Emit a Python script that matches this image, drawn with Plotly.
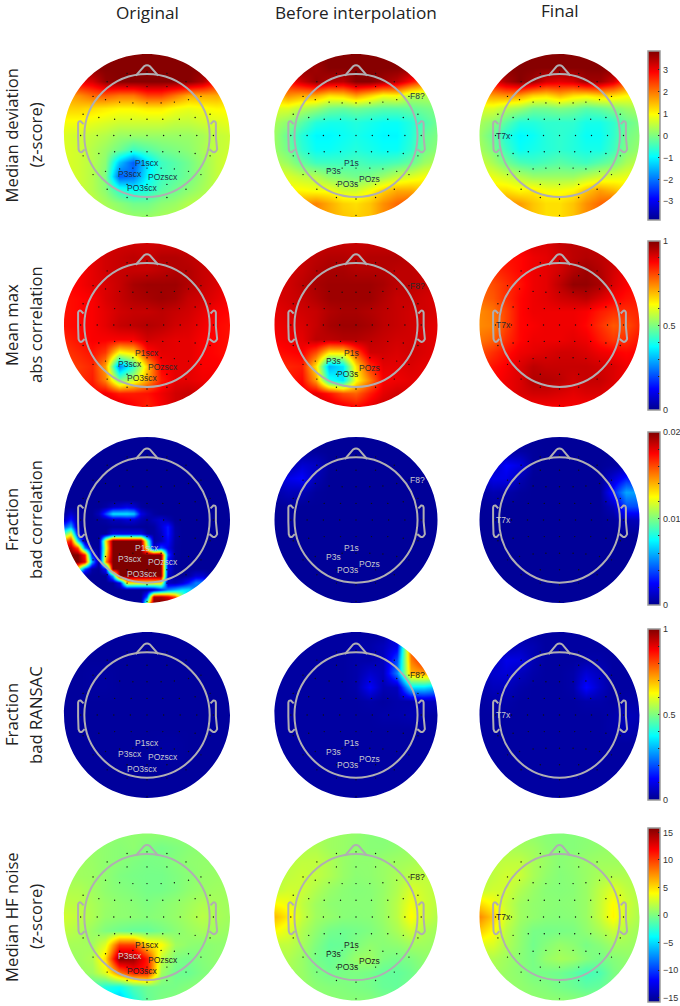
import numpy as np
import plotly.graph_objects as go

# topographic maps, top row of each list = front of head
# Median deviation (z-score)
MD_ORIG = [
    [3.8,3.8,3.8,3.8,3.8,3.8,3.8,3.8,3.8,3.8,3.8,3.8,3.8],
    [3.8,3.8,3.8,3.8,3.8,3.8,3.8,3.8,3.8,3.8,3.8,3.8,3.8],
    [3,3,3.2,3.7,3.8,3.8,3.8,3.8,3.8,3.8,3.5,2.8,2.5],
    [1.6,1.8,2.1,2.2,2,2,2.4,2.4,2,1.6,1.6,1.6,1.4],
    [1.3,1.3,1.2,1.1,1,1,1.1,1.1,.9,.8,.9,1,1],
    [.9,.9,.8,.7,.6,.6,.6,.6,.5,.5,.6,.7,.8],
    [.7,.6,.5,.4,.2,.2,.2,.2,.2,.2,.3,.5,.6],
    [.7,.6,.4,.2,-.1,-.5,-.3,-.1,0,.1,.3,.5,.6],
    [.7,.6,.4,.1,-1.4,-2.2,-1.2,-.5,-.3,-.1,.2,.5,.7],
    [.7,.6,.4,0,-2.2,-2,-1,-.5,-.3,-.1,.2,.5,.7],
    [.7,.6,.4,.1,-.6,-.9,-.7,-.3,-.1,.1,.3,.5,.7],
    [.7,.6,.5,.3,.1,-.1,-.1,.1,.2,.4,.5,.6,.7],
    [.6,.6,.5,.4,.3,.2,.2,.3,.4,.5,.6,.7,.7],
]
MD_BEFORE = [
    [3.8,3.8,3.8,3.8,3.8,3.8,3.8,3.8,3.8,3.8,3.8,3.8,3.8],
    [3.8,3.8,3.8,3.6,3.8,3.8,3.8,3.8,3.8,3.8,3.8,3.8,3.8],
    [2.8,2.8,3.3,3.7,3.5,3.4,3.8,3.8,3.6,3.4,2.8,2.2,2],
    [1.5,1.8,1.6,1.6,1.2,1.3,1.7,1.3,.9,1,.4,.4,.4],
    [.7,.7,.4,.2,-.1,-.2,-.1,-.2,-.3,-.3,-.2,-.1,0],
    [.3,.1,-.3,-.7,-.8,-.8,-.7,-.8,-.9,-.9,-.7,-.4,-.1],
    [.2,-.2,-.7,-1,-1,-.9,-.8,-.9,-1,-1,-.7,-.2,0],
    [.2,-.1,-.6,-.9,-.9,-.8,-.7,-.8,-.9,-.9,-.6,-.1,.1],
    [.4,.2,-.2,-.5,-.5,-.5,-.4,-.5,-.5,-.4,-.2,.2,.4],
    [.8,.7,.5,.4,.1,0,-.1,0,.2,.5,.7,.9,1],
    [1,1,1,.9,.9,.6,.6,.9,1.3,1.6,1.6,1.4,1],
    [1.2,1.5,1.7,1.9,1.6,1.3,1.2,1.4,1.8,2.1,2.3,2,1.4],
    [1.2,1.5,1.7,1.8,1.6,1.4,1.3,1.4,1.8,2.1,2.2,2,1.4],
]
MD_FINAL = [
    [3.8,3.8,3.8,3.8,3.8,3.8,3.8,3.8,3.8,3.8,3.8,3.8,3.8],
    [3.8,3.8,3.8,3.8,3.8,3.8,3.8,3.8,3.8,3.8,3.8,3.8,3.8],
    [2.8,3,3.5,3.8,3.6,3.2,3.1,3.2,3.6,3.6,3.2,2.4,2],
    [1.6,1.7,1.8,1.7,1.3,1.2,1.5,1.2,1.1,1.3,1.2,1,.9],
    [.7,.7,.4,.2,-.1,-.1,0,-.1,-.3,-.2,0,.2,.3],
    [.3,.1,-.3,-.7,-.7,-.6,-.6,-.6,-.8,-.8,-.6,-.2,0],
    [.2,-.2,-.7,-1,-.9,-.7,-.6,-.7,-.9,-.9,-.6,-.1,.1],
    [.3,0,-.5,-.9,-.8,-.7,-.6,-.7,-.8,-.8,-.5,0,.2],
    [.6,.3,-.1,-.4,-.5,-.4,-.3,-.4,-.5,-.3,-.1,.3,.5],
    [.9,.8,.6,.4,.2,.2,.2,.2,.4,.6,.7,.8,.9],
    [1.2,1.2,1.2,1,1.1,.9,.9,1,1.4,1.7,1.5,1.2,1.1],
    [1.3,1.6,1.8,1.7,1.4,1.2,1.2,1.4,1.8,2.1,2.3,1.8,1.3],
    [1.3,1.6,1.8,1.7,1.4,1.2,1.2,1.4,1.8,2.1,2.2,1.8,1.3],
]

# Mean max abs correlation
MC_ORIG = [
    [.92,.92,.92,.92,.92,.92,.92,.92,.92,.92,.92,.92,.92],
    [.9,.9,.9,.92,.93,.94,.93,.95,.95,.94,.93,.92,.9],
    [.88,.88,.9,.92,.93,.93,.93,.94,.95,.95,.93,.92,.9],
    [.87,.88,.9,.91,.93,.96,.97,.97,.97,.95,.93,.91,.89],
    [.86,.87,.88,.91,.93,.95,.96,.97,.96,.93,.92,.9,.88],
    [.86,.87,.88,.9,.92,.93,.93,.94,.93,.92,.9,.88,.87],
    [.86,.87,.88,.9,.93,.94,.95,.94,.92,.91,.89,.87,.86],
    [.84,.86,.88,.88,.88,.88,.92,.91,.9,.9,.88,.87,.86],
    [.82,.84,.86,.82,.62,.66,.86,.9,.9,.9,.88,.87,.86],
    [.81,.82,.84,.72,.25,.42,.68,.88,.9,.9,.88,.88,.87],
    [.82,.83,.85,.75,.5,.58,.72,.85,.9,.9,.89,.89,.88],
    [.85,.85,.87,.89,.85,.85,.86,.89,.92,.93,.92,.9,.88],
    [.88,.88,.9,.93,.92,.88,.84,.88,.92,.93,.92,.9,.88],
]
MC_BEFORE = [
    [.93,.93,.93,.93,.93,.93,.93,.93,.93,.93,.93,.93,.93],
    [.93,.93,.93,.94,.95,.95,.94,.95,.95,.95,.94,.93,.92],
    [.92,.92,.93,.95,.96,.96,.95,.95,.95,.94,.94,.93,.92],
    [.92,.92,.94,.96,.97,.97,.97,.97,.96,.94,.94,.93,.92],
    [.91,.92,.93,.95,.97,.97,.97,.97,.95,.93,.93,.92,.91],
    [.9,.91,.92,.93,.95,.96,.96,.95,.94,.93,.92,.92,.91],
    [.89,.9,.91,.93,.96,.97,.97,.96,.94,.93,.92,.91,.9],
    [.88,.89,.9,.94,.94,.95,.95,.94,.93,.92,.92,.91,.9],
    [.86,.87,.88,.8,.65,.65,.8,.92,.92,.91,.92,.91,.9],
    [.84,.84,.85,.65,.3,.35,.65,.83,.9,.9,.91,.9,.9],
    [.85,.85,.87,.72,.4,.35,.62,.75,.88,.89,.9,.9,.9],
    [.87,.87,.89,.9,.86,.8,.78,.85,.9,.92,.91,.9,.9],
    [.9,.9,.92,.93,.92,.9,.87,.9,.93,.93,.92,.9,.9],
]
MC_FINAL = [
    [.89,.89,.89,.89,.91,.91,.93,.94,.94,.94,.91,.89,.89],
    [.85,.85,.86,.87,.89,.9,.92,.94,.95,.94,.93,.91,.89],
    [.81,.83,.85,.87,.89,.9,.92,.95,.97,.95,.92,.89,.87],
    [.78,.8,.83,.86,.89,.9,.94,.98,.98,.96,.91,.88,.86],
    [.77,.79,.83,.87,.89,.9,.92,.93,.94,.91,.88,.86,.85],
    [.74,.76,.81,.87,.89,.89,.89,.89,.88,.85,.83,.83,.84],
    [.74,.75,.81,.87,.88,.89,.89,.89,.87,.83,.79,.8,.84],
    [.76,.78,.83,.87,.89,.89,.89,.9,.89,.85,.82,.83,.86],
    [.8,.83,.86,.89,.9,.91,.92,.92,.91,.89,.88,.87,.88],
    [.83,.86,.88,.91,.94,.93,.93,.93,.93,.92,.91,.89,.89],
    [.85,.87,.89,.91,.95,.95,.94,.92,.93,.93,.91,.89,.89],
    [.87,.88,.89,.91,.92,.92,.91,.9,.91,.91,.9,.89,.89],
    [.88,.88,.88,.88,.88,.88,.88,.88,.88,.88,.88,.88,.88],
]

# Fraction bad correlation, in units of 1e-4 (the blob in the first map has a hard edge, so a finer grid)
BC_ORIG = [
    [2,2,2,2,2,2,2,2,2,2,2,2,2,2,2,2,2,2,2,2,2,2,2,2,2],
    [2,2,2,2,2,2,2,2,2,2,2,2,2,2,2,2,2,2,2,2,2,2,2,2,2],
    [2,2,2,2,2,2,2,2,2,2,2,2,2,2,2,2,2,2,2,2,2,2,2,2,2],
    [2,2,2,2,2,2,2,2,2,2,2,2,2,2,2,2,2,2,2,2,2,2,2,2,2],
    [2,2,2,2,2,2,2,2,2,2,2,2,2,2,2,2,2,2,2,2,2,2,2,2,2],
    [2,2,2,2,2,2,2,2,2,2,2,2,2,2,2,2,2,2,2,2,2,2,2,2,2],
    [2,2,2,2,2,2,2,2,2,2,2,2,2,2,2,2,2,2,2,2,2,2,2,2,2],
    [2,2,2,2,2,2,2,2,2,2,2,2,2,2,2,2,2,2,2,2,2,2,2,2,2],
    [2,2,2,2,2,2,2,2,2,2,2,2,2,2,2,2,2,2,2,2,2,2,2,2,2],
    [2,2,2,2,2,2,2,2,2,2,2,2,2,2,2,2,2,2,2,2,2,2,2,2,2],
    [2,2,2,2,2,2,5,12,15,20,15,4,2,2,2,2,2,2,2,2,2,2,2,2,2],
    [2,15,3,2,2,10,40,70,70,70,65,20,10,4,2,2,2,2,2,2,2,2,2,2,2],
    [10,30,4,2,2,3,5,10,10,15,15,8,4,10,15,8,2,2,2,2,2,2,2,2,2],
    [40,60,5,2,2,2,2,3,3,3,3,2,2,4,15,30,5,2,2,2,2,2,2,2,2],
    [90,120,20,2,2,2,2,20,20,20,20,20,4,4,10,30,6,2,2,2,2,2,2,2,2],
    [150,170,70,5,2,2,130,200,200,200,200,200,100,5,8,25,5,2,2,2,2,2,2,2,2],
    [190,190,160,50,3,2,120,200,200,200,200,200,120,10,40,20,4,2,2,2,2,2,2,2,2],
    [200,200,200,170,30,2,130,200,200,200,200,200,200,200,200,40,4,2,2,2,2,2,2,2,2],
    [200,200,200,180,60,2,150,200,200,200,200,200,200,200,200,20,3,2,2,2,2,2,2,2,2],
    [150,150,120,40,5,2,30,200,200,200,200,200,200,200,200,20,3,2,2,2,2,2,2,2,2],
    [30,20,5,2,2,2,2,60,200,200,200,200,200,200,200,15,3,2,5,15,15,5,2,2,2],
    [2,2,2,2,2,2,2,2,20,130,130,130,130,130,130,10,8,15,30,50,50,10,2,2,2],
    [2,2,2,2,2,2,2,2,2,2,2,2,3,10,30,50,60,70,70,50,15,3,2,2,2],
    [2,2,2,2,2,2,2,2,2,2,2,2,40,190,190,180,160,110,50,15,3,2,2,2,2],
    [2,2,2,2,2,2,2,2,2,2,2,2,100,200,200,200,190,150,80,20,3,2,2,2,2],
]
BC_BEFORE = [
    [2,2,2,2,2,2,2,2,2,2,2,2,2],
    [2,2,2,3,2,2,2,2,2,2,2,2,2],
    [2,5,15,12,3,2,2,2,2,2,2,2,2],
    [10,20,25,8,2,2,2,2,2,2,2,2,2],
    [6,10,8,3,2,2,2,2,2,2,2,2,2],
    [2,3,2,2,2,2,2,2,2,2,2,2,2],
    [2,2,2,2,2,2,2,2,2,2,2,2,2],
    [2,2,2,2,2,2,2,2,2,2,2,2,2],
    [2,2,2,2,2,2,2,2,2,2,2,2,2],
    [2,2,2,2,2,2,2,2,2,2,2,2,2],
    [2,2,2,2,2,2,2,2,2,2,2,2,2],
    [2,2,2,2,2,2,2,2,2,2,2,2,2],
    [2,2,2,2,2,2,2,2,2,2,2,2,2],
]
BC_FINAL = [
    [2,2,2,2,2,2,2,2,2,2,2,2,2],
    [2,2,3,5,3,2,2,2,2,2,2,2,2],
    [5,10,25,18,3,2,2,2,2,2,4,5,4],
    [10,20,20,8,2,2,2,2,2,2,15,30,25],
    [4,8,6,3,2,2,2,2,2,2,30,58,55],
    [2,3,2,2,2,2,2,2,2,2,10,40,40],
    [2,2,2,2,2,2,2,2,2,2,3,8,10],
    [2,2,2,2,2,2,2,2,2,2,2,2,2],
    [2,2,2,2,2,2,2,2,2,2,2,2,2],
    [2,2,2,2,2,2,2,2,2,2,2,2,2],
    [2,2,2,2,2,2,2,2,2,2,2,2,2],
    [2,2,2,2,2,2,2,2,2,2,2,2,2],
    [2,2,2,2,2,2,2,2,2,2,2,2,2],
]

# Fraction bad RANSAC
BR_ORIG = [
    [.015,.015,.015,.015,.015,.015,.015,.015,.015,.015,.015,.015,.015],
    [.015,.015,.015,.015,.015,.015,.015,.015,.015,.015,.015,.015,.015],
    [.015,.015,.015,.015,.015,.015,.015,.015,.015,.015,.015,.015,.015],
    [.015,.015,.02,.02,.015,.015,.015,.015,.015,.015,.015,.015,.015],
    [.015,.015,.02,.02,.015,.015,.015,.015,.015,.015,.015,.015,.015],
    [.015,.015,.015,.015,.015,.015,.015,.015,.015,.015,.015,.015,.015],
    [.015,.015,.015,.015,.015,.015,.015,.015,.015,.015,.015,.015,.015],
    [.015,.015,.015,.015,.015,.015,.015,.015,.015,.015,.015,.015,.015],
    [.015,.015,.015,.015,.015,.015,.015,.02,.02,.015,.015,.015,.015],
    [.015,.015,.015,.015,.015,.015,.015,.02,.02,.015,.015,.015,.015],
    [.015,.015,.015,.015,.015,.015,.015,.015,.015,.015,.015,.015,.015],
    [.015,.015,.015,.015,.015,.015,.015,.015,.015,.015,.015,.015,.015],
    [.015,.015,.015,.015,.015,.015,.015,.015,.015,.015,.015,.015,.015],
]
BR_BEFORE = [
    [.02,.02,.02,.02,.02,.02,.02,.02,.02,.1,.6,.8,.8],
    [.02,.02,.02,.02,.02,.02,.03,.03,.05,.1,.8,.85,.85],
    [.02,.02,.02,.02,.02,.02,.03,.03,.05,.2,.75,.85,.85],
    [.02,.02,.02,.02,.02,.02,.03,.07,.05,.25,.7,.72,.7],
    [.02,.02,.02,.02,.02,.02,.03,.12,.04,.05,.35,.35,.3],
    [.02,.02,.02,.02,.02,.02,.02,.03,.02,.03,.03,.05,.05],
    [.02,.02,.02,.02,.02,.02,.02,.02,.03,.03,.04,.03,.02],
    [.02,.02,.02,.02,.02,.02,.02,.02,.02,.02,.02,.02,.02],
    [.02,.02,.02,.02,.02,.02,.02,.02,.02,.02,.02,.02,.02],
    [.02,.02,.02,.02,.02,.02,.02,.02,.02,.02,.02,.02,.02],
    [.02,.02,.02,.02,.02,.02,.02,.02,.02,.02,.02,.02,.02],
    [.02,.02,.02,.02,.02,.02,.02,.02,.02,.02,.02,.02,.02],
    [.02,.02,.02,.02,.02,.02,.02,.02,.02,.02,.02,.02,.02],
]
BR_FINAL = [
    [.02,.02,.02,.02,.02,.02,.02,.02,.02,.02,.02,.02,.02],
    [.02,.02,.03,.05,.04,.02,.02,.02,.02,.02,.02,.02,.02],
    [.03,.05,.1,.09,.04,.02,.02,.02,.03,.03,.02,.02,.02],
    [.04,.07,.08,.05,.03,.02,.02,.03,.08,.05,.02,.02,.02],
    [.03,.05,.05,.03,.02,.02,.02,.03,.13,.06,.02,.02,.02],
    [.02,.03,.03,.02,.02,.02,.02,.02,.03,.03,.02,.03,.03],
    [.02,.02,.02,.02,.02,.02,.02,.02,.02,.02,.03,.05,.04],
    [.02,.02,.02,.02,.02,.02,.02,.02,.02,.02,.03,.04,.03],
    [.02,.02,.02,.02,.02,.02,.02,.02,.02,.02,.02,.02,.02],
    [.02,.02,.02,.02,.02,.02,.02,.02,.02,.02,.02,.02,.02],
    [.02,.02,.02,.02,.02,.02,.02,.02,.02,.02,.02,.02,.02],
    [.02,.02,.02,.02,.02,.02,.02,.02,.02,.02,.02,.02,.02],
    [.02,.02,.02,.02,.02,.02,.02,.02,.02,.02,.02,.02,.02],
]

# Median HF noise (z-score)
HF_ORIG = [
    [.5,.5,.5,.5,.5,.5,.5,.5,.5,.5,.5,.5,.5],
    [.8,.8,.7,.5,.3,.5,0,-.3,0,.3,.5,.5,.5],
    [1,1,.8,.5,.3,0,-.2,-.1,.2,.5,.6,.6,.6],
    [1,1,.9,.5,0,-.2,-.3,-.3,0,.3,.7,.8,.8],
    [1.5,1.5,1,.5,.2,0,-.3,-.3,0,.5,.8,1,1],
    [2,1.8,1.3,.8,.5,.3,0,.3,.6,1,1.5,1.2,1],
    [2.5,2,1.4,.7,.5,.4,.2,.4,.7,1.2,1.8,1.3,1],
    [2,1.5,.8,0,-.5,-.8,-.8,-.3,.3,.8,1.2,1,.8],
    [1.2,1.2,1,3,10,10,5,4,1,.5,.3,.5,.5],
    [.8,1,1.5,5,15.5,15,11,2,0,-.3,.2,.5,.5],
    [.5,.8,1,3,8,11,11,1,-.5,-.6,0,.4,.5],
    [-.5,-.5,-1.5,-3,-3.5,-1.5,-.5,-.3,-.2,.2,.5,.6,.6],
    [-3,-3,-3,-4.5,-6,-3,-.8,0,.2,.5,.6,.6,.6],
]
HF_BEFORE = [
    [1,1,1,1,1,.8,.6,.3,.2,.2,.5,.8,1],
    [1.5,1.5,1.5,1.5,1,.8,.5,.3,.3,.5,.8,1,1],
    [1.5,1.8,2,2,1.5,.8,.5,.5,.8,1,1.2,1.5,1.5],
    [1.5,2,2.3,2,1.5,.8,.4,.5,.8,1.3,1.8,2,1.8],
    [2,2.5,2.3,1.5,.8,.4,.2,.3,.7,1.5,2.8,2.3,1.8],
    [4,3.5,2,1,.5,.3,.3,.3,.8,1.8,3.5,2.5,1.8],
    [6,4.5,2.2,1,.7,.3,.2,.3,.8,1.8,4,2.5,1.5],
    [4,3,1.5,.5,-.3,-.5,-.3,0,.5,1.3,2.5,1.5,1],
    [2,2,1.2,0,-.8,-.7,0,.5,.3,.5,1,1,.8],
    [1.2,1.5,.8,-.3,-.7,-.2,.8,1,0,-.3,0,.5,.7],
    [1,1.2,.8,0,-.4,-.2,-.1,-.3,-.8,-.9,-.5,.3,.5],
    [.8,1,.8,.4,.2,.1,-.1,-.3,-.7,-.8,-.3,.3,.5],
    [.8,.8,.8,.6,.5,.3,.3,.2,-.1,-.2,.2,.4,.5],
]
HF_FINAL = [
    [.8,.8,.8,.8,.5,.3,.2,.2,.3,.5,.5,.5,.5],
    [1,1,1.3,1.2,1,.5,.2,.2,.4,.6,.8,.8,.8],
    [1.5,1.8,2,2,1.3,.8,.3,.5,.8,1,1,1,1],
    [1.5,2,2.5,2.3,1.3,.6,.2,.4,.8,1.3,1.5,1.5,1.2],
    [2,2.5,2.5,1.5,.8,.3,.2,.3,.8,2,3,2,1.5],
    [5,3.8,2.2,1,.6,.4,.3,.4,.8,2.2,4,2.5,1.5],
    [7.5,5.5,2.5,1,.6,.3,.2,.3,.8,2.2,4.2,2.3,1.3],
    [5.5,4,1.8,.6,-.2,-.3,-.2,-.1,.5,1.3,2.3,1.5,1],
    [3,2.8,1.5,.5,-.4,.2,.7,.4,-.2,.3,1,1,.8],
    [1.5,1.5,1,.3,-.2,.7,1.2,.9,.2,-.3,.2,.5,.7],
    [1,1.2,.8,.4,-.2,-.3,-.5,-1,-1.8,-1.5,-.2,.5,.6],
    [1,1,.8,.6,.3,.1,-.3,-.6,-1,-.8,-.1,.4,.6],
    [.8,.8,.8,.7,.6,.5,.5,.4,.3,.3,.4,.5,.6],
]

# electrode positions (fraction of map radius)
CHAN_X = [-.24,0,.24, -.48,-.24,0,.24,.47, -.65,-.5,-.33,-.17,0,.17,.33,.5,.65,
          -.77,-.58,-.39,-.19,0,.19,.39,.58,.76, -.8,-.6,-.4,-.2,0,.2,.4,.6,.8,
          -.77,-.58,-.39,-.19,0,.19,.39,.58,.76, -.65,-.5,-.33,-.17,0,.17,.33,.5,.65,
          -.8,-.48,-.24,0,.24,.47,.8, -.24,0,.24, 0]
CHAN_Y = [.76,.78,.76, .66,.6,.6,.6,.66, .48,.44,.41,.4,.4,.4,.41,.44,.48,
          .26,.22,.2,.2,.2,.2,.2,.22,.26, 0,0,0,0,0,0,0,0,0,
          -.25,-.22,-.2,-.2,-.2,-.2,-.2,-.22,-.25, -.48,-.44,-.41,-.4,-.4,-.4,-.41,-.44,-.48,
          -.62,-.66,-.6,-.6,-.6,-.66,-.62, -.76,-.78,-.76, -.98]

# channel labels per column
LABELS = [["P1scx","P3scx","POzscx","PO3scx"], ["P1s","P3s","POzs","PO3s","F8?"], ["T7x"]]
LABEL_X = [[0,-.2,.19,-.05], [-.06,-.27,.16,-.1,.76], [-.7]]
LABEL_Y = [[-.34,-.47,-.51,-.65], [-.34,-.44,-.53,-.6,.48], [0]]
LABEL_COLORS = ["#1f3044","#2b2b2b","#c9c9cf","#c9c9cf","#222222"]

COL_TITLES = ["Original","Before interpolation","Final"]
ROW_TITLES = [["Median deviation","(z-score)"],["Mean max","abs correlation"],["Fraction","bad correlation"],
              ["Fraction","bad RANSAC"],["Median HF noise","(z-score)"]]

MAPS = [[MD_ORIG,MD_BEFORE,MD_FINAL],[MC_ORIG,MC_BEFORE,MC_FINAL],[BC_ORIG,BC_BEFORE,BC_FINAL],
        [BR_ORIG,BR_BEFORE,BR_FINAL],[HF_ORIG,HF_BEFORE,HF_FINAL]]
ZSCALE = [1,1,1e-4,1,1]
ZMIN = [-3.85,0,0,0,-15.8]
ZMAX = [3.85,1,.02,1,15.8]

TICKVALS = [[-3,-2,-1,0,1,2,3],
            [0,.1,.2,.3,.4,.5,.6,.7,.8,.9,1],
            [0,.002,.004,.006,.008,.01,.012,.014,.016,.018,.02],
            [0,.1,.2,.3,.4,.5,.6,.7,.8,.9,1],
            [-15,-10,-5,0,5,10,15]]
TICKTEXT = [["\u22123","\u22122","\u22121","0","1","2","3"],
            ["0","","","","","0.5","","","","","1"],
            ["0","","","","","0.01","","","","","0.02"],
            ["0","","","","","0.5","","","","","1"],
            ["\u221215","\u221210","\u22125","0","5","10","15"]]

# pixel layout of the page
W, H = 680, 1006
COL_CX = [147,356,559.5]
COL_RX = [83,81.5,80]
ROW_CY = [135.5,325,520,715,917]
ROW_RY = [81.5,82,83,83,83.5]
CBAR_TOP = [51,241,432,629,828]
CBAR_BOT = [220,410,605,800,1002]

JET = [[0,"rgb(0,0,143)"],[.125,"rgb(0,0,255)"],[.375,"rgb(0,255,255)"],[.625,"rgb(255,255,0)"],
       [.875,"rgb(255,0,0)"],[1,"rgb(128,0,0)"]]
HEAD = "#b0aeb2"
EDGE = 1.1  # past the edge of the 13x13 heatmap image, so the image never touches the clip box


def circle_path(r):
    k = .5523 * r
    return (f"M{r},0 C{r},{k} {k},{r} 0,{r} C{-k},{r} {-r},{k} {-r},0 "
            f"C{-r},{-k} {-k},{-r} 0,{-r} C{k},{-r} {r},{-k} {r},0 Z")


def head_shapes(xa, ya):
    common = dict(xref=xa, yref=ya, layer="above")
    line = dict(color=HEAD, width=2)
    square = "M-1.3,-1.3 L1.3,-1.3 L1.3,1.3 L-1.3,1.3 Z "
    return [
        # white square with a round hole, so the map shows as a disc
        dict(type="path", path=square + circle_path(1), fillrule="evenodd", fillcolor="white",
             line=dict(width=0), **common),
        dict(type="circle", x0=-.755, x1=.755, y0=-.755, y1=.755, line=line, **common),
        # nose
        dict(type="path", path="M-.135,.735 L-.035,.85 Q0,.875 .035,.85 L.135,.735", line=line, **common),
        # ears
        dict(type="path", path="M-.765,.14 L-.8,.175 Q-.825,.18 -.83,.15 L-.83,-.02 L-.825,-.17 Q-.81,-.22 -.78,-.2 L-.752,-.17",
             line=line, **common),
        dict(type="path", path="M.765,.14 L.8,.175 Q.825,.18 .83,.15 L.83,-.02 L.845,-.17 Q.82,-.22 .79,-.2 L.752,-.17",
             line=line, **common),
    ]


fig = go.Figure()
layout_axes = {}
shapes = []
annotations = []
n = 0
for r in range(5):
    for c in range(3):
        n += 1
        xa, ya = f"x{n}", f"y{n}"
        cx, cy, rx, ry = COL_CX[c], ROW_CY[r], COL_RX[c], ROW_RY[r]
        # bottom row would run off the page, so cut its axis at the page edge
        bot_px = min(H, cy + EDGE*ry)
        layout_axes[f"xaxis{n}"] = dict(domain=[(cx - EDGE*rx)/W, (cx + EDGE*rx)/W], range=[-EDGE, EDGE],
                                        visible=False, anchor=ya, fixedrange=True)
        layout_axes[f"yaxis{n}"] = dict(domain=[1 - bot_px/H, 1 - (cy - EDGE*ry)/H], range=[-(bot_px - cy)/ry, EDGE],
                                        visible=False, anchor=xa, fixedrange=True)
        z = np.array(MAPS[r][c], dtype=float)[::-1] * ZSCALE[r]
        trace = dict(z=z, x=np.linspace(-1, 1, z.shape[1]), y=np.linspace(-1, 1, z.shape[0]),
                     xaxis=xa, yaxis=ya, zmin=ZMIN[r], zmax=ZMAX[r], colorscale=JET, zsmooth="best",
                     hoverinfo="skip", showscale=False)
        if c == 2:
            trace["showscale"] = True
            trace["colorbar"] = dict(x=648/W, xanchor="left", xpad=0, y=1 - CBAR_TOP[r]/H, yanchor="top", ypad=0,
                                     thickness=12, thicknessmode="pixels",
                                     len=CBAR_BOT[r] - CBAR_TOP[r], lenmode="pixels",
                                     outlinecolor="#999999", outlinewidth=1.5,
                                     tickmode="array", tickvals=TICKVALS[r], ticktext=TICKTEXT[r],
                                     ticks="inside", ticklen=2, tickwidth=1, tickcolor="#222222",
                                     tickfont=dict(family="Liberation Sans", size=9, color="#333333"))
        fig.add_trace(go.Heatmap(**trace))
        fig.add_trace(go.Scatter(x=CHAN_X, y=CHAN_Y, xaxis=xa, yaxis=ya, mode="markers",
                                 marker=dict(color="#111111", size=1.4), hoverinfo="skip", showlegend=False))
        # annotations, so the labels stay on top of the head outline
        for label, lx, ly in zip(LABELS[c], LABEL_X[c], LABEL_Y[c]):
            color = LABEL_COLORS[r]
            if (r == 4 and label == "P3scx"):
                color = "#d5d0d0"
            if (r == 3 and label == "F8?"):
                color = "#222222"
            annotations.append(dict(text=label, x=lx, y=ly, xref=xa, yref=ya, showarrow=False,
                                    xanchor="center", yanchor="middle",
                                    font=dict(family="Liberation Sans", size=8.5, color=color)))
        shapes += head_shapes(xa, ya)

for c, title in enumerate(COL_TITLES):
    annotations.append(dict(text=title, x=COL_CX[c]/W, y=1 - [12, 13, 10][c]/H, xref="paper", yref="paper",
                            xanchor="center", yanchor="middle", showarrow=False,
                            font=dict(family="Open Sans", size=17.2, color="#222222")))
for r, pair in enumerate(ROW_TITLES):
    for i, title in enumerate(pair):
        annotations.append(dict(text=title, x=[11, 35][i]/W, y=1 - ROW_CY[r]/H, xref="paper", yref="paper",
                                xanchor="center", yanchor="middle", showarrow=False, textangle=-90,
                                font=dict(family="Open Sans", size=16.7, color="#222222")))

fig.update_layout(width=W, height=H, margin=dict(l=0, r=0, t=0, b=0, autoexpand=False),
                  paper_bgcolor="white", plot_bgcolor="white", showlegend=False,
                  shapes=shapes, annotations=annotations, **layout_axes)

fig.write_html("out.html", post_script="document.body.style.margin='0';", config=dict(displayModeBar=False))
